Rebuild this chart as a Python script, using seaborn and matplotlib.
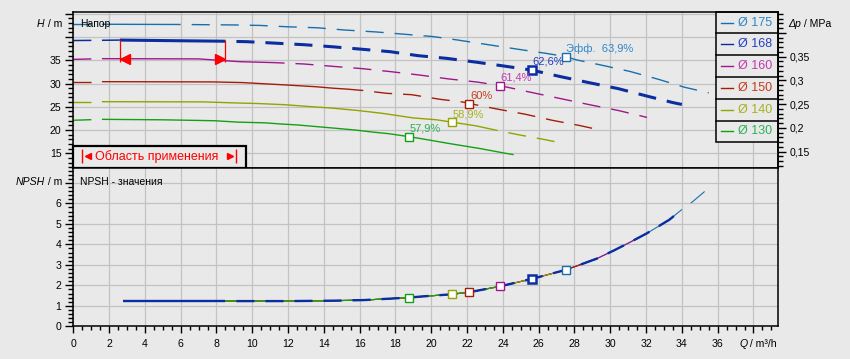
import numpy as np
import matplotlib
matplotlib.use("Agg")
import matplotlib.pyplot as plt
import seaborn as sns
from matplotlib.patches import Rectangle
from matplotlib.lines import Line2D
from matplotlib.ticker import MultipleLocator, FuncFormatter
from matplotlib.transforms import offset_copy

# ------------------------------------------------------------------ data
diameters = ["175", "168", "160", "150", "140", "130"]

q_175 = [0, 1.6, 6.0, 9.0, 10.4, 12.0, 13.6, 15.2, 16.9, 18.5, 20.1, 21.4, 24.8, 26.4, 27.5, 28.1, 29.7, 31.1, 32.7, 34.15, 35.5]
h_175 = [42.75, 42.75, 42.7, 42.6, 42.5, 42.2, 42.0, 41.5, 41.1, 40.6, 40.1, 39.4, 37.4, 36.5, 35.8, 35.1, 33.8, 32.6, 30.9, 29.2, 28.0]

q_168 = [0, 1.6, 2.6, 6.0, 8.5, 9.7, 11.2, 12.9, 14.5, 16.05, 17.7, 19.25, 20.9, 22.5, 24.0, 25.6, 27.2, 28.8, 30.45, 32.05, 33.5, 34.0]
h_168 = [39.25, 39.3, 39.35, 39.2, 39.1, 39.0, 38.7, 38.35, 37.9, 37.4, 36.85, 36.0, 35.4, 34.6, 33.8, 32.9, 31.5, 30.2, 28.9, 27.3, 25.9, 25.5]

q_160 = [0, 1.6, 7.0, 8.5, 9.3, 11.2, 11.8, 12.9, 14.5, 16.15, 17.75, 19.4, 20.95, 22.6, 23.84, 25.7, 27.3, 28.9, 30.45, 31.75, 32.05]
h_160 = [35.2, 35.35, 35.3, 34.9, 34.7, 34.5, 34.4, 34.2, 33.7, 33.2, 32.55, 31.8, 31.0, 30.3, 29.55, 28.0, 26.7, 25.4, 24.2, 23.0, 22.7]

q_150 = [0, 1.6, 7.8, 9.5, 10.9, 12.3, 13.6, 14.5, 15.3, 16.2, 17.5, 18.9, 20.5, 21.8, 22.13, 23.7, 25.25, 26.75, 28.25, 29.2]
h_150 = [30.4, 30.4, 30.35, 30.2, 29.9, 29.6, 29.3, 29.0, 28.8, 28.5, 27.9, 27.6, 26.6, 26.0, 25.7, 24.5, 23.4, 22.1, 21.0, 20.2]

q_140 = [0, 1.6, 7.3, 9.3, 10.3, 11.8, 13.2, 14.5, 15.9, 17.25, 19.0, 20.3, 21.14, 22.5, 23.7, 24.85, 26.4, 26.9]
h_140 = [26.1, 26.1, 26.05, 25.8, 25.7, 25.45, 25.05, 24.7, 24.2, 23.6, 22.6, 22.2, 21.7, 20.9, 19.9, 19.0, 17.9, 17.5]

q_130 = [0, 1.6, 5.0, 7.9, 9.2, 10.7, 11.6, 12.5, 13.7, 14.6, 15.75, 16.75, 17.65, 18.75, 19.5, 21.0, 22.75, 24.0, 24.6]
h_130 = [22.1, 22.3, 22.2, 22.0, 21.7, 21.55, 21.3, 21.1, 20.7, 20.4, 20.0, 19.55, 19.2, 18.58, 18.1, 17.1, 16.0, 15.1, 14.7]

npsh_q = [2.8, 8.5, 12.0, 14.5, 16.25, 17.7, 18.75, 19.4, 21.1, 22.16, 23.84, 25.6, 27.5, 28.3, 29.24, 30.2, 31.1, 32.05, 33.3, 34.0, 34.6, 35.3, 35.76]
npsh_m = [1.23, 1.23, 1.23, 1.25, 1.28, 1.35, 1.40, 1.45, 1.56, 1.67, 1.95, 2.31, 2.75, 3.0, 3.3, 3.7, 4.1, 4.54, 5.2, 5.7, 6.08, 6.6, 6.98]

eff_q = [27.5, 25.6, 23.84, 22.13, 21.14, 18.75]
eff_h = [35.8, 32.9, 29.55, 25.67, 21.66, 18.58]
eff_npsh = [2.75, 2.31, 1.95, 1.67, 1.57, 1.40]
eff_labels = ["Эфф.  63,9%", "62,6%", "61,4%", "60%", "58,9%", "57,9%"]

range_q = [2.6, 8.5]          # application range on the Ø168 curve
x_ticklabels = [str(v) for v in range(0, 37, 2)]

# ------------------------------------------------------------------ styles
BG = "#e9e9e9"
GRID = "#c2c2c2"
line_col = {"175": "#1670ad", "168": "#0a2ea0", "160": "#a0168c",
            "150": "#a21e08", "140": "#93a300", "130": "#14a014"}
text_col = {"175": "#2f86c8", "168": "#2440c0", "160": "#c23ab0",
            "150": "#c43c1e", "140": "#a7b11c", "130": "#2db255"}
solid_span = {"175": (1.6, 6.0), "160": (1.6, 11.8), "150": (1.6, 16.2),
              "140": (1.6, 23.7), "130": (1.6, 24.6)}
K = 0.00978                    # m -> MPa

plt.rcParams["font.family"] = ["Liberation Sans", "DejaVu Sans"]
plt.rcParams["lines.scale_dashes"] = False
ON, OFF = 13.0, 7.9
DASH = (0, (ON, OFF))
DASH_GAP_FIRST = (ON, (ON, OFF))

fig = plt.figure(figsize=(8.5, 3.59), dpi=100, facecolor=BG)
ax_h = fig.add_axes([73.3 / 850, (359 - 168.3) / 359, 704.7 / 850, 156.6 / 359])
ax_n = fig.add_axes([73.3 / 850, (359 - 326.3) / 359, 704.7 / 850, 158.0 / 359])
for ax in (ax_h, ax_n):
    ax.set_facecolor(BG)


def seg(ax, q, h, lo, hi, color, lw, ls, z):
    q = np.asarray(q, float)
    h = np.asarray(h, float)
    m = (q >= lo - 1e-9) & (q <= hi + 1e-9)
    if m.sum() < 2:
        return None
    sns.lineplot(x=q[m], y=h[m], ax=ax, color=color, linewidth=lw,
                 sort=False, estimator=None, legend=False, zorder=z)
    ln = ax.lines[-1]
    ln.set_linestyle(ls)
    ln.set_solid_capstyle("butt")
    ln.set_dash_capstyle("butt")
    return ln


curves = {"175": (q_175, h_175), "168": (q_168, h_168), "160": (q_160, h_160),
          "150": (q_150, h_150), "140": (q_140, h_140), "130": (q_130, h_130)}

# ------------------------------------------------------------------ head curves
for d in ["175", "160", "150", "140", "130"]:
    q, h = curves[d]
    a, b = solid_span[d]
    c = line_col[d]
    seg(ax_h, q, h, 0, a, c, 1.0, DASH, 3)
    seg(ax_h, q, h, a, b, c, 1.0, "-", 3)
    seg(ax_h, q, h, b, q[-1], c, 1.0, DASH_GAP_FIRST, 3)

q, h = curves["168"]
c = line_col["168"]
seg(ax_h, q, h, 0, 1.6, c, 1.1, DASH, 4)
seg(ax_h, q, h, 1.6, range_q[0], c, 1.1, "-", 4)
seg(ax_h, q, h, range_q[0], range_q[1], c, 2.2, "-", 4)
seg(ax_h, q, h, range_q[1], q[-1], c, 2.2, DASH_GAP_FIRST, 4)

# application range marks
ax_h.vlines(range_q, 34.7, 39.45, color="#ff0000", lw=0.9, zorder=5)
arrow_h = 35.38
ax_h.plot([range_q[0]], [arrow_h], marker="<", ms=7.2, color="#ff0000", ls="",
          transform=offset_copy(ax_h.transData, fig=fig, x=3.6, y=0, units="points"), zorder=6)
ax_h.plot([range_q[1]], [arrow_h], marker=">", ms=7.2, color="#ff0000", ls="",
          transform=offset_copy(ax_h.transData, fig=fig, x=-3.6, y=0, units="points"), zorder=6)

# efficiency points (head)
for i, d in enumerate(diameters):
    big = d == "168"
    ax_h.plot([eff_q[i]], [eff_h[i]], marker="s", ms=6.4 if big else 5.6,
              mew=1.8 if big else 1.0, mfc="white", mec=line_col[d], ls="", zorder=7)
    ax_h.annotate(eff_labels[i], (eff_q[i], eff_h[i]), xytext=(0.6, 2.2),
                  textcoords="offset points", ha="left", va="bottom",
                  fontsize=8, color=text_col[d], zorder=8)

# ------------------------------------------------------------------ NPSH curves
for d in ["175", "160", "150", "140", "130"]:
    qmax = curves[d][0][-1]
    if d == "175":
        l1 = seg(ax_n, npsh_q, npsh_m, 0, 34.0, line_col[d], 0.8, "-", 3)
        l2 = seg(ax_n, npsh_q, npsh_m, 34.0, 40, line_col[d], 0.8, DASH_GAP_FIRST, 3)
        lines = [l1, l2]
    else:
        lines = [seg(ax_n, npsh_q, npsh_m, 0, 40, line_col[d], 0.8, "-", 3)]
    for ln in lines:
        ln.set_clip_path(Rectangle((0, -10), qmax, 100, transform=ax_n.transData))

q168_max = curves["168"][0][-1]
seg(ax_n, npsh_q, npsh_m, 0, range_q[1], line_col["168"], 1.7, "-", 4)
seg(ax_n, npsh_q, npsh_m, range_q[1], q168_max, line_col["168"], 1.7, DASH_GAP_FIRST, 4)

for i, d in enumerate(diameters):
    big = d == "168"
    ax_n.plot([eff_q[i]], [eff_npsh[i]], marker="s", ms=6.4 if big else 5.6,
              mew=1.8 if big else 1.0, mfc="white", mec=line_col[d], ls="", zorder=7)

# ------------------------------------------------------------------ axes
XMAX = 39.37
ax_h.set_xlim(0, XMAX)
ax_n.set_xlim(0, XMAX)
ax_h.set_ylim(11.77, 45.45)
ax_n.set_ylim(0, 7.71)

for ax in (ax_h, ax_n):
    ax.set_xlabel("")
    ax.set_ylabel("")
    ax.set_axisbelow(True)
    ax.xaxis.set_major_locator(MultipleLocator(2))
    ax.grid(True, which="major", color=GRID, lw=0.9)
    for s in ax.spines.values():
        s.set_color("black")
        s.set_linewidth(1.1)
        s.set_zorder(12)

ax_h.yaxis.set_major_locator(MultipleLocator(5))
ax_h.yaxis.set_minor_locator(MultipleLocator(1))
ax_h.yaxis.set_major_formatter(FuncFormatter(lambda v, p: f"{v:.0f}" if v <= 35.5 else ""))
ax_h.tick_params(axis="x", which="both", length=0, labelbottom=False)
ax_h.tick_params(axis="y", which="major", direction="out", length=6, width=1.0, labelsize=7.6, pad=2.5)
ax_h.tick_params(axis="y", which="minor", direction="out", length=3.6, width=1.0)

ax_n.yaxis.set_major_locator(MultipleLocator(1))
ax_n.yaxis.set_minor_locator(MultipleLocator(0.2))
ax_n.yaxis.set_major_formatter(FuncFormatter(lambda v, p: f"{v:.0f}" if v <= 6.5 else ""))
ax_n.xaxis.set_minor_locator(MultipleLocator(0.5))
ax_n.xaxis.set_major_formatter(FuncFormatter(
    lambda v, p: x_ticklabels[int(round(v / 2))] if 0 <= round(v / 2) < len(x_ticklabels) else ""))
ax_n.tick_params(axis="y", which="major", direction="out", length=6, width=1.0, labelsize=7.6, pad=2.5)
ax_n.tick_params(axis="y", which="minor", direction="out", length=3.6, width=1.0)
ax_n.tick_params(axis="x", which="major", direction="out", length=5, width=1.0, labelsize=7.6, pad=4)
ax_n.tick_params(axis="x", which="minor", direction="out", length=2.6, width=1.0)

sec = ax_h.secondary_yaxis("right", functions=(lambda v: v * K, lambda v: v / K))
sec.yaxis.set_major_locator(MultipleLocator(0.05))
sec.yaxis.set_minor_locator(MultipleLocator(0.01))
sec.yaxis.set_major_formatter(FuncFormatter(
    lambda v, p: (f"{v:.2f}".rstrip("0").replace(".", ",")) if 0.14 < v <= 0.355 else ""))
sec.tick_params(axis="y", which="major", direction="out", length=6, width=1.0, labelsize=7.6, pad=2.5)
sec.tick_params(axis="y", which="minor", direction="out", length=3.6, width=1.0)
sec.spines["right"].set_linewidth(1.1)

# panel titles
ax_h.text(0.0095, 0.9195, "Напор", transform=ax_h.transAxes, ha="left", va="center",
          fontsize=7.5, zorder=9)
ax_n.text(0.0095, 0.915, "NPSH - значения", transform=ax_n.transAxes, ha="left", va="center",
          fontsize=7.5, zorder=9)

# axis labels
t = fig.text(62 / 850, 1 - 24.3 / 359, " / m", ha="right", va="center", fontsize=7.6)
fig.add_artist(plt.Annotation("H", xy=(0, 0.5), xycoords=t, ha="right", va="center",
                              fontsize=7.6, style="italic"))
t = fig.text(62 / 850, 1 - 181.7 / 359, " / m", ha="right", va="center", fontsize=7.6)
fig.add_artist(plt.Annotation("NPSH", xy=(0, 0.5), xycoords=t, ha="right", va="center",
                              fontsize=7.6, style="italic"))
t = fig.text(788 / 850, 1 - 24.3 / 359, "Δp", ha="left", va="center", fontsize=7.6, style="italic")
fig.add_artist(plt.Annotation(" / MPa", xy=(1, 0.5), xycoords=t, ha="left", va="center",
                              fontsize=7.6))
t = fig.text(739 / 850, 1 - 344 / 359, "Q", ha="left", va="center", fontsize=7.6, style="italic")
fig.add_artist(plt.Annotation(" / m³/h", xy=(1, 0.5), xycoords=t, ha="left", va="center",
                              fontsize=7.6))

# ------------------------------------------------------------------ legend box
tr = ax_h.transAxes
x0 = (716 - 73.3) / 704.7
ax_h.add_patch(Rectangle((x0, 0.166), 1 - x0, 1 - 0.166, transform=tr, facecolor=BG,
                         edgecolor="black", lw=1.1, zorder=10, clip_on=False))
row_h = (1 - 0.166) / 6
for i, d in enumerate(diameters):
    top = 1 - i * row_h
    yc = top - row_h / 2
    if i > 0:
        ax_h.add_line(Line2D([x0, 1], [top, top], transform=tr, color="black", lw=1.1,
                             zorder=11, clip_on=False))
    ax_h.add_line(Line2D([0.9191, 0.9361], [yc, yc], transform=tr, color=line_col[d], lw=1.0,
                         zorder=11, clip_on=False))
    ax_h.text(0.9432, yc, "Ø " + d, transform=tr, ha="left", va="center", fontsize=9,
              color=text_col[d], zorder=11)

# application-range box
bw, bh = 0.2451, 0.1424
ax_h.add_patch(Rectangle((0, 0), bw, bh, transform=tr, facecolor=BG, edgecolor="black",
                         lw=1.6, zorder=10, clip_on=False))
yb = 0.0754
ax_h.plot([0.01277], [yb], marker="|", ms=10, mew=1.0, color="#ff0000", transform=tr, zorder=11)
ax_h.plot([0.2305], [yb], marker="|", ms=10, mew=1.0, color="#ff0000", transform=tr, zorder=11)
ax_h.plot([0.0205], [yb], marker="<", ms=4.2, color="#ff0000", transform=tr, zorder=11)
ax_h.plot([0.2225], [yb], marker=">", ms=4.2, color="#ff0000", transform=tr, zorder=11)
ax_h.text(0.0315, yb, "Область применения", transform=tr, ha="left", va="center",
          fontsize=9, color="#ff0000", zorder=11)

fig.savefig("out.png", dpi=100, facecolor=BG)
